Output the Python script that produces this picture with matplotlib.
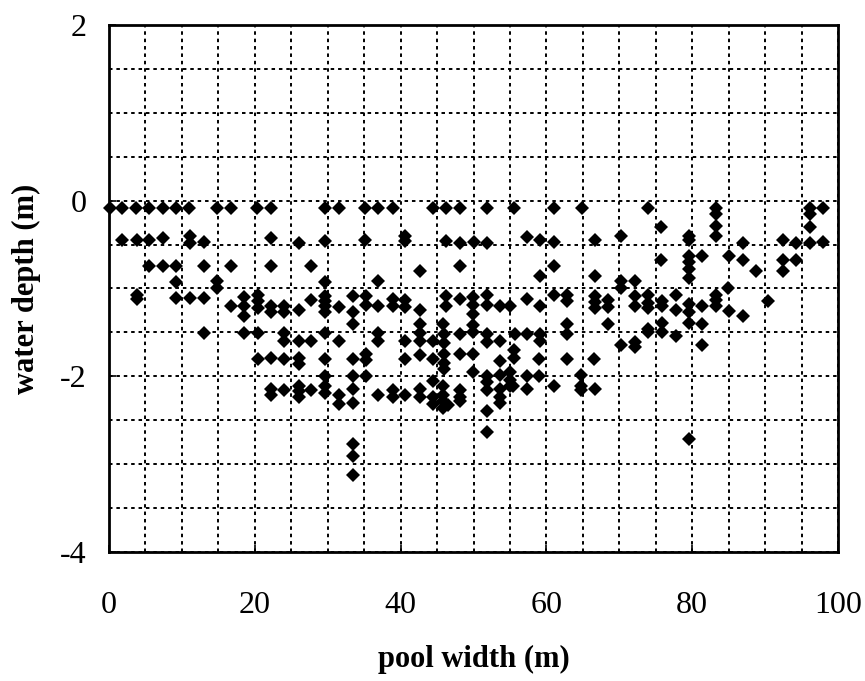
import matplotlib
matplotlib.use("Agg")
import matplotlib.pyplot as plt
from matplotlib.ticker import MultipleLocator

plt.rcParams['font.family'] = ['Liberation Serif', 'DejaVu Serif']
plt.rcParams['axes.unicode_minus'] = False

# pool width (m)
pool_width = [
    # surface row
    0.1, 1.8, 3.7, 5.5, 7.4, 9.2, 11.0, 14.8, 16.8, 20.3, 22.2, 29.6, 31.5, 35.1, 36.9, 38.9,
    44.4, 46.2, 48.1, 51.9, 55.6, 61.0, 64.9, 74.0, 83.2, 96.2, 98.0, 83.2, 96.2,
    # around -0.45
    1.8, 3.8, 5.5, 7.4, 11.1, 11.1, 13.1, 22.2, 26.0, 29.6, 35.1, 40.6, 40.6, 46.2, 48.1, 50.0,
    51.9, 57.4, 59.1, 61.0, 66.6, 70.3, 79.5, 79.5, 87.0, 92.5, 94.2, 96.2, 98.0,
    75.7, 83.2, 83.2, 96.2,
    # around -0.75
    5.5, 7.4, 9.2, 13.1, 16.7, 22.2, 27.7, 42.7, 48.1, 61.0, 59.1, 66.6, 75.7, 79.5, 79.5, 81.3,
    85.0, 87.0, 88.8, 92.5, 92.5, 94.2, 79.5, 79.5,
    # around -0.95
    9.2, 14.8, 14.8, 29.6, 36.9, 70.3, 70.3, 72.1, 84.9,
    # around -1.2
    3.8, 3.8, 9.2, 11.1, 13.1, 16.7, 18.5, 18.5, 18.5, 20.4, 20.4, 20.4, 22.2, 22.2, 24.0, 24.0,
    26.0, 27.7, 29.6, 29.6, 29.6, 29.6, 31.5, 33.5, 33.5, 33.5, 35.3, 35.3, 36.9, 38.9, 38.9,
    40.6, 40.6, 42.7, 42.7, 46.2, 46.2, 48.1, 49.9, 49.9, 49.9, 49.9, 49.9, 51.9, 51.9, 53.6,
    55.0, 57.4, 59.1, 61.0, 62.8, 62.8, 66.6, 66.6, 66.6, 45.8, 62.8,
    68.4, 68.4, 72.1, 72.1, 74.0, 74.0, 74.0, 75.8, 75.8, 77.8, 77.8, 79.5, 79.5, 81.3, 83.2,
    83.2, 83.2, 85.0, 87.0, 90.4,
    68.4, 74.0, 74.0, 75.8, 75.8, 77.8, 79.5, 81.3, 81.3, 70.3, 72.1, 72.1,
    # around -1.55
    13.1, 18.5, 20.4, 24.0, 24.0, 26.0, 27.7, 29.6, 31.5, 36.9, 36.9, 40.6, 42.7, 42.7, 44.4,
    45.9, 45.9, 48.1, 51.9, 51.9, 53.6, 55.7, 57.4, 59.1, 59.1, 62.8,
    # around -1.8
    20.4, 22.2, 24.0, 26.0, 26.0, 29.6, 33.5, 35.3, 35.3, 40.6, 42.7, 44.4, 45.9, 45.9, 45.9,
    48.1, 49.9, 53.6, 55.6, 55.6, 59.0, 62.8, 66.5,
    # around -2.0
    29.6, 33.5, 35.3, 44.4, 49.9, 51.9, 53.6, 55.0, 55.0, 55.0, 57.4, 59.0, 64.8, 64.8, 64.8,
    # around -2.2
    22.2, 22.2, 24.0, 26.0, 26.0, 26.0, 27.7, 29.6, 29.6, 31.5, 31.5, 33.5, 33.5, 36.9, 38.9,
    38.9, 40.6, 42.7, 42.7, 44.4, 44.4, 45.8, 45.8, 45.8, 45.8, 46.5, 48.1, 48.1, 48.1, 51.9,
    51.9, 53.6, 53.6, 53.6, 51.9, 51.9, 55.4, 57.4, 61.1, 66.6,
    # deepest
    33.5, 33.5, 33.5, 79.5,
]

# water depth (m)
water_depth = [
    -0.08, -0.08, -0.08, -0.08, -0.08, -0.08, -0.08, -0.08, -0.08, -0.08, -0.08, -0.08, -0.08, -0.08, -0.08, -0.08,
    -0.08, -0.08, -0.08, -0.08, -0.08, -0.08, -0.08, -0.08, -0.08, -0.08, -0.08, -0.15, -0.15,
    -0.45, -0.45, -0.45, -0.43, -0.40, -0.48, -0.47, -0.42, -0.48, -0.46, -0.45, -0.40, -0.46, -0.46, -0.48, -0.47,
    -0.48, -0.41, -0.45, -0.47, -0.45, -0.40, -0.40, -0.45, -0.48, -0.45, -0.48, -0.48, -0.47,
    -0.30, -0.29, -0.40, -0.30,
    -0.74, -0.74, -0.74, -0.74, -0.74, -0.74, -0.74, -0.80, -0.74, -0.74, -0.86, -0.86, -0.68, -0.63, -0.70, -0.63,
    -0.63, -0.68, -0.80, -0.68, -0.80, -0.68, -0.78, -0.88,
    -0.93, -0.91, -0.99, -0.93, -0.91, -0.91, -0.99, -0.91, -1.00,
    -1.07, -1.12, -1.11, -1.11, -1.11, -1.20, -1.10, -1.20, -1.31, -1.07, -1.14, -1.22, -1.20, -1.27, -1.20, -1.27,
    -1.24, -1.13, -1.08, -1.14, -1.20, -1.27, -1.21, -1.08, -1.27, -1.40, -1.08, -1.19, -1.20, -1.12, -1.20,
    -1.13, -1.21, -1.24, -1.40, -1.08, -1.20, -1.12, -1.10, -1.19, -1.29, -1.41, -1.50, -1.07, -1.19, -1.20,
    -1.20, -1.12, -1.20, -1.07, -1.07, -1.14, -1.08, -1.15, -1.22, -1.40, -1.40,
    -1.13, -1.21, -1.08, -1.20, -1.07, -1.16, -1.22, -1.14, -1.20, -1.07, -1.24, -1.18, -1.27, -1.20, -1.07,
    -1.13, -1.20, -1.26, -1.31, -1.14,
    -1.40, -1.46, -1.49, -1.39, -1.49, -1.54, -1.39, -1.40, -1.64, -1.64, -1.61, -1.67,
    -1.51, -1.51, -1.51, -1.51, -1.60, -1.60, -1.60, -1.51, -1.60, -1.51, -1.60, -1.60, -1.51, -1.60, -1.60,
    -1.52, -1.62, -1.52, -1.52, -1.61, -1.60, -1.52, -1.52, -1.52, -1.60, -1.52,
    -1.80, -1.79, -1.80, -1.79, -1.86, -1.80, -1.80, -1.75, -1.81, -1.80, -1.76, -1.80, -1.75, -1.85, -1.92,
    -1.75, -1.75, -1.83, -1.70, -1.79, -1.80, -1.80, -1.80,
    -2.00, -2.00, -2.00, -2.05, -1.95, -2.00, -1.99, -1.95, -2.04, -2.11, -2.00, -2.00, -1.99, -2.11, -2.15,
    -2.14, -2.21, -2.15, -2.11, -2.17, -2.23, -2.15, -2.11, -2.19, -2.21, -2.32, -2.14, -2.30, -2.21, -2.15,
    -2.23, -2.21, -2.14, -2.23, -2.23, -2.31, -2.11, -2.21, -2.28, -2.36, -2.33, -2.15, -2.23, -2.28, -2.07,
    -2.15, -2.14, -2.23, -2.30, -2.40, -2.63, -2.11, -2.14, -2.11, -2.14,
    -2.77, -2.91, -3.12, -2.71,
]

x_ticks = [0, 20, 40, 60, 80, 100]
y_ticks = [2, 0, -2, -4]

fig = plt.figure(figsize=(8.65, 6.81), dpi=100)
ax = fig.add_axes([109 / 865, 1 - 552 / 681, (838 - 109) / 865, (552 - 25) / 681])

ax.set_xlim(0, 100)
ax.set_ylim(-4, 2)

ax.xaxis.set_minor_locator(MultipleLocator(5))
ax.yaxis.set_minor_locator(MultipleLocator(0.5))
ax.set_xticks(x_ticks)
ax.set_yticks(y_ticks)
ax.set_xticklabels([str(v) for v in x_ticks])
ax.set_yticklabels([str(v) for v in y_ticks])

grid_kw = dict(color='black', linewidth=1.4, linestyle=(0, (1.8, 2.0)))
ax.grid(True, which='both', **grid_kw)
ax.set_axisbelow(True)

ax.plot(pool_width, water_depth, linestyle='none', marker='D', markersize=6.8,
        color='black', markeredgewidth=0, zorder=3, clip_on=False)

for s in ax.spines.values():
    s.set_linewidth(2.0)
    s.set_color('black')

ax.tick_params(axis='both', which='major', direction='in', length=5, width=1.2,
               labelsize=23, colors='black')
ax.tick_params(axis='both', which='minor', length=0)
ax.tick_params(axis='x', which='major', pad=28)
ax.tick_params(axis='y', which='major', pad=16)

ax.set_xlabel('pool width (m)', fontsize=22, fontweight='bold', labelpad=18)
ax.set_ylabel('water depth (m)', fontsize=22, fontweight='bold', labelpad=14)

fig.savefig('out.png', dpi=100)
